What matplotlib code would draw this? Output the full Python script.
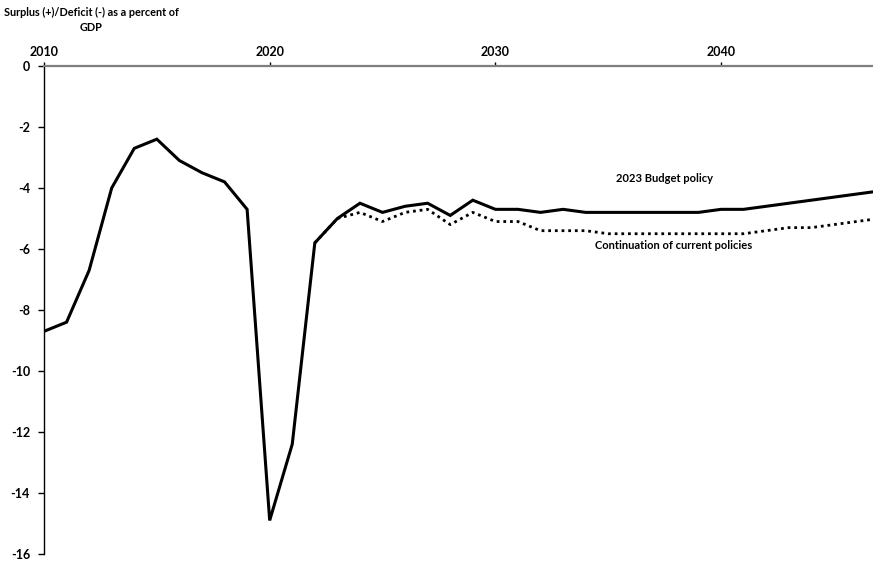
import matplotlib
matplotlib.use("Agg")
import matplotlib.pyplot as plt

years_budget = list(range(2010, 2048))
budget = [-8.7, -8.4, -6.7, -4.0, -2.7, -2.4, -3.1, -3.5, -3.8, -4.7,
          -14.9, -12.4, -5.8, -5.0, -4.5, -4.8, -4.6, -4.5, -4.9, -4.4,
          -4.7, -4.7, -4.8, -4.7, -4.8, -4.8, -4.8, -4.8, -4.8, -4.8,
          -4.7, -4.7, -4.6, -4.5, -4.4, -4.3, -4.2, -4.1]

years_current = list(range(2022, 2048))
current = [-5.8, -5.0, -4.8, -5.1, -4.8, -4.7, -5.2, -4.8, -5.1, -5.1,
           -5.4, -5.4, -5.4, -5.5, -5.5, -5.5, -5.5, -5.5, -5.5, -5.5,
           -5.4, -5.3, -5.3, -5.2, -5.1, -5.0]

xticks = [2010, 2020, 2030, 2040]
yticks = [0, -2, -4, -6, -8, -10, -12, -14, -16]

plt.rcParams['font.family'] = ['Lato', 'DejaVu Sans']

fig = plt.figure(figsize=(8.73, 5.63), dpi=100)
ax = fig.add_axes([0.0504, 0.016, 0.9565, 0.8668])

ax.plot(years_current, current, color='black', lw=2.0, linestyle=(0, (1, 1.4)))
ax.plot(years_budget, budget, color='black', lw=2.2, solid_joinstyle='miter')

ax.set_xlim(2010, 2047)
ax.set_ylim(-16, 0)

ax.spines['right'].set_visible(False)
ax.spines['bottom'].set_visible(False)
ax.spines['top'].set_color('#7f7f7f')
ax.spines['top'].set_linewidth(1.6)
ax.spines['left'].set_color('black')
ax.spines['left'].set_linewidth(1.0)

ax.xaxis.tick_top()
ax.set_xticks(xticks)
ax.set_xticklabels([str(x) for x in xticks], fontsize=9, fontweight='bold')
ax.tick_params(axis='x', direction='out', length=3, width=1, color='black', pad=3)
ax.set_yticks(yticks)
ax.set_yticklabels([str(y) for y in yticks], fontsize=9, fontweight='bold')
ax.tick_params(axis='y', direction='out', length=4, width=1, color='black', pad=6)

fig.text(91/873, 1 - 20/563, "Surplus (+)/Deficit (-) as a percent of\nGDP",
         ha='center', va='center', fontsize=7.8, fontweight='bold', linespacing=1.45)

ax.text(2037.5, -3.7, "2023 Budget policy", ha='center', va='center',
        fontsize=8, fontweight='bold')
ax.text(2037.9, -5.9, "Continuation of current policies", ha='center', va='center',
        fontsize=8, fontweight='bold')

fig.savefig("out.png", dpi=100)
